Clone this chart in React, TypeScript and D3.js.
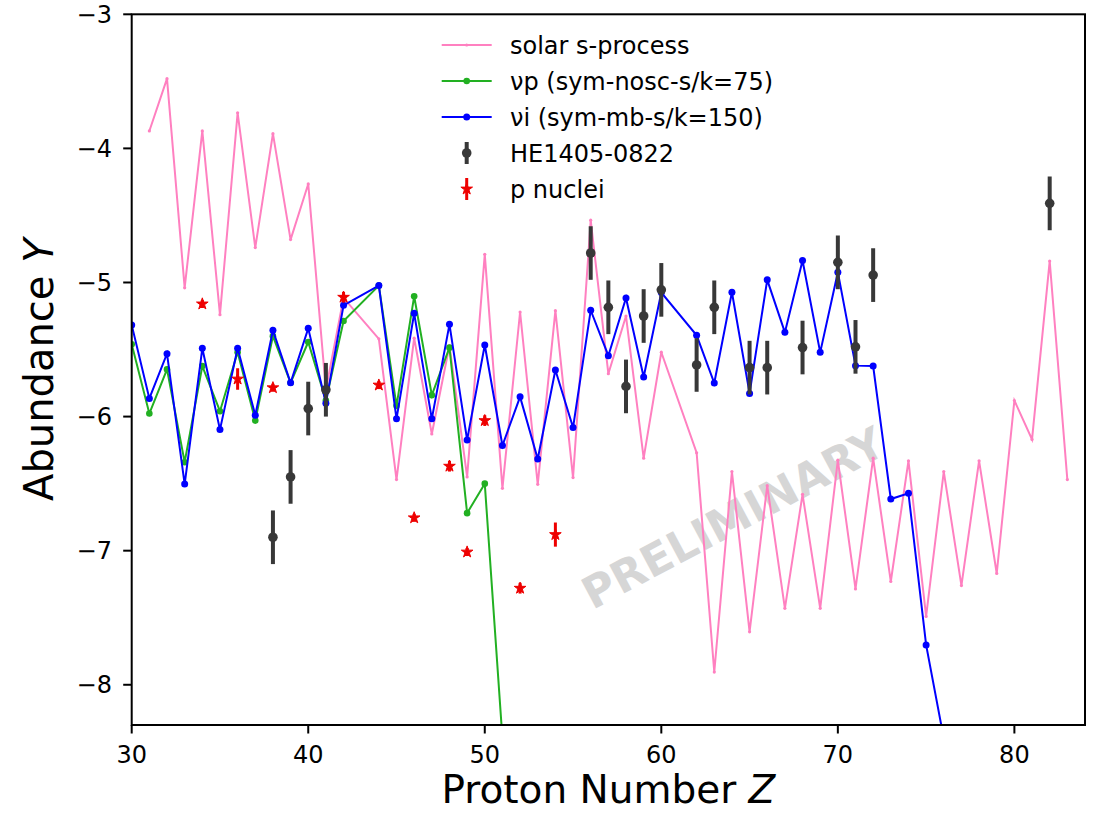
import React from "react";
import * as d3 from "d3";

const solarZ = [31,32,33,34,35,36,37,38,39,40,41,42,44,45,46,47,48,49,50,51,52,53,54,55,56,57,58,59,60,62,63,64,65,66,67,68,69,70,71,72,73,74,75,76,77,78,79,80,81,82,83];
const solarY = [-3.87,-3.48,-5.04,-3.87,-5.24,-3.735,-4.74,-3.89,-4.68,-4.265,-5.80,-5.115,-5.42,-6.47,-5.415,-6.13,-5.47,-6.45,-4.79,-6.535,-5.22,-6.505,-5.21,-6.455,-4.535,-5.68,-5.25,-6.31,-5.52,-6.27,-7.905,-6.41,-7.605,-6.515,-7.43,-6.58,-7.43,-6.325,-7.285,-6.31,-7.23,-6.33,-7.49,-6.41,-7.26,-6.33,-7.17,-5.88,-6.17,-4.84,-6.47];

const vpZ = [30,31,32,33,34,35,36,37,38,39,40,41,42,44,45,46,47,48,49,50,51];
const vpY = [-5.461,-5.977,-5.648,-6.34,-5.623,-5.96,-5.52,-6.03,-5.40,-5.748,-5.444,-5.88,-5.287,-5.023,-5.92,-5.103,-5.84,-5.486,-6.72,-6.50,-8.4];

const viZ = [30,31,32,33,34,35,36,37,38,39,40,41,42,44,45,46,47,48,49,50,51,52,53,54,55,56,57,58,59,60,62,63,64,65,66,67,68,69,70,71,72,73,74,75,76];
const viY = [-5.317,-5.865,-5.531,-6.503,-5.491,-6.097,-5.491,-5.99,-5.357,-5.748,-5.342,-5.90,-5.17,-5.023,-6.017,-5.23,-6.017,-5.312,-6.174,-5.466,-6.216,-5.853,-6.316,-5.653,-6.082,-5.207,-5.546,-5.115,-5.705,-5.075,-5.394,-5.75,-5.073,-5.827,-4.98,-5.372,-4.836,-5.521,-4.923,-5.62,-5.623,-6.615,-6.572,-7.703,-8.4];

const heZ = [38,39,40,41,56,57,58,59,60,62,63,65,66,68,70,71,72,82];
const heY = [-6.90,-6.45,-5.94,-5.80,-4.78,-5.185,-5.775,-5.25,-5.055,-5.615,-5.185,-5.635,-5.635,-5.485,-4.85,-5.48,-4.945,-4.41];
const heErr = [0.2,0.2,0.2,0.2,0.2,0.2,0.2,0.2,0.2,0.2,0.2,0.2,0.2,0.2,0.2,0.2,0.2,0.2];

const pZ = [34,36,38,42,44,46,48,49,50,52,54];
const pY = [-5.16,-5.72,-5.785,-5.11,-5.765,-6.755,-6.37,-7.01,-6.03,-7.28,-6.88];
const pErr = [0.03,0.08,0.03,0.04,0.03,0.03,0.04,0.03,0.04,0.04,0.09];

const xTicks = [30,40,50,60,70,80];
const yTicks = [-8,-7,-6,-5,-4,-3];

const legendLabels = ["solar s-process", "\u03bdp (sym-nosc-s/k=75)", "\u03bdi (sym-mb-s/k=150)", "HE1405-0822", "p nuclei"];

const PINK = "#ff80c0";
const GREEN = "#22b022";
const BLUE = "#0000ff";
const GRAY = "#383838";
const RED = "#ee0000";
const FONT = "DejaVu Sans";

export default function App() {
  const W = 1094, H = 813;
  const L = 131.7, R = 1085, T = 14.3, B = 725;
  const x = d3.scaleLinear().domain([30, 84]).range([L, R]);
  const y = d3.scaleLinear().domain([-8.3, -3]).range([B, T]);
  const line = (zs: number[], ys: number[]) =>
    d3.line<number>().x((_, i) => x(zs[i])).y((v) => y(v))(ys) || "";
  const star = d3.symbol().type(d3.symbolStar).size(42)() || "";
  const legendY = [45, 81, 117, 153, 189];
  const hx0 = 441.7, hx1 = 491.7, hxm = 466.7, tx = 510;

  return (
    <svg width={W} height={H} style={{ position: "absolute", left: 0, top: 0, background: "#fff" }} fontFamily={FONT}>
      <defs>
        <clipPath id="plot"><rect x={L} y={T} width={R - L} height={B - T} /></clipPath>
      </defs>
      <rect x={0} y={0} width={W} height={H} fill="#fff" />
      <text x={733} y={518} fontSize={44} fontWeight="bold" fill="#d6d6d6" textAnchor="middle" dominantBaseline="central" transform="rotate(-28 733 518)">PRELIMINARY</text>
      <g clipPath="url(#plot)">
        <path d={line(solarZ, solarY)} fill="none" stroke={PINK} strokeWidth={2} strokeLinejoin="miter" />
        {solarZ.map((z, i) => <circle key={"s" + i} cx={x(z)} cy={y(solarY[i])} r={1.6} fill={PINK} />)}
        <path d={line(vpZ, vpY)} fill="none" stroke={GREEN} strokeWidth={2} />
        {vpZ.map((z, i) => <circle key={"g" + i} cx={x(z)} cy={y(vpY[i])} r={3.3} fill={GREEN} />)}
        <path d={line(viZ, viY)} fill="none" stroke={BLUE} strokeWidth={2} />
        {viZ.map((z, i) => <circle key={"b" + i} cx={x(z)} cy={y(viY[i])} r={3.5} fill={BLUE} />)}
        {heZ.map((z, i) => (
          <g key={"h" + i}>
            <line x1={x(z)} x2={x(z)} y1={y(heY[i] - heErr[i])} y2={y(heY[i] + heErr[i])} stroke={GRAY} strokeWidth={4} />
            <circle cx={x(z)} cy={y(heY[i])} r={4.8} fill={GRAY} />
          </g>
        ))}
        {pZ.map((z, i) => (
          <g key={"p" + i}>
            <line x1={x(z)} x2={x(z)} y1={y(pY[i] - pErr[i])} y2={y(pY[i] + pErr[i])} stroke={RED} strokeWidth={3} />
            <path d={star} transform={`translate(${x(z)},${y(pY[i])})`} fill={RED} stroke={RED} strokeWidth={1} strokeLinejoin="round" />
          </g>
        ))}
      </g>
      <rect x={L} y={T} width={R - L} height={B - T} fill="none" stroke="#000" strokeWidth={2} />
      {xTicks.map((t) => (
        <g key={"xt" + t}>
          <line x1={x(t)} x2={x(t)} y1={B} y2={B + 8.5} stroke="#000" strokeWidth={2} />
          <text x={x(t)} y={763} fontSize={24} textAnchor="middle" fill="#000">{t}</text>
        </g>
      ))}
      {yTicks.map((t) => (
        <g key={"yt" + t}>
          <line x1={L - 8.5} x2={L} y1={y(t)} y2={y(t)} stroke="#000" strokeWidth={2} />
          <text x={112} y={y(t) + 8.6} fontSize={24} textAnchor="end" fill="#000">{"\u2212" + Math.abs(t)}</text>
        </g>
      ))}
      <text x={(L + R) / 2} y={803} fontSize={39} textAnchor="middle" fill="#000">Proton Number <tspan fontStyle="italic">Z</tspan></text>
      <text transform={`translate(53,${(T + B) / 2}) rotate(-90)`} fontSize={40} textAnchor="middle" fill="#000">Abundance <tspan fontStyle="italic">Y</tspan></text>
      <g>
        <line x1={hx0} x2={hx1} y1={legendY[0]} y2={legendY[0]} stroke={PINK} strokeWidth={2} />
        <circle cx={hxm} cy={legendY[0]} r={1.6} fill={PINK} />
        <line x1={hx0} x2={hx1} y1={legendY[1]} y2={legendY[1]} stroke={GREEN} strokeWidth={2} />
        <circle cx={hxm} cy={legendY[1]} r={3.3} fill={GREEN} />
        <line x1={hx0} x2={hx1} y1={legendY[2]} y2={legendY[2]} stroke={BLUE} strokeWidth={2} />
        <circle cx={hxm} cy={legendY[2]} r={3.5} fill={BLUE} />
        <line x1={hxm} x2={hxm} y1={legendY[3] - 11} y2={legendY[3] + 11} stroke={GRAY} strokeWidth={4} />
        <circle cx={hxm} cy={legendY[3]} r={4.8} fill={GRAY} />
        <line x1={hxm} x2={hxm} y1={legendY[4] - 11} y2={legendY[4] + 11} stroke={RED} strokeWidth={3} />
        <path d={star} transform={`translate(${hxm},${legendY[4]})`} fill={RED} stroke={RED} strokeWidth={1} strokeLinejoin="round" />
        {legendLabels.map((lab, i) => (
          <text key={"l" + i} x={tx} y={legendY[i] + 8.5} fontSize={24} fill="#000">{lab}</text>
        ))}
      </g>
    </svg>
  );
}
